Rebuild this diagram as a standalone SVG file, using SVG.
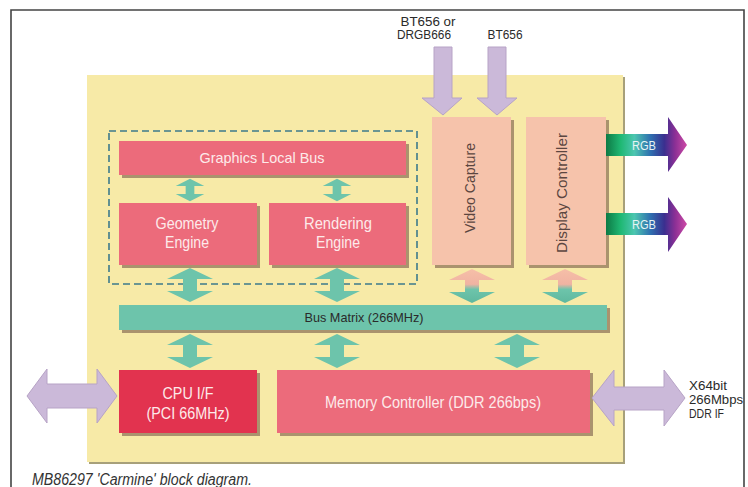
<svg xmlns="http://www.w3.org/2000/svg" width="748" height="487" viewBox="0 0 748 487">
<defs>
<style>
.pink{fill:#ec6b7b}
.red{fill:#e2334f}
.peach{fill:#f6c3ab}
.teal{fill:#6dc4ab}
.shadow{fill:#6b4a40;opacity:0.55}
.lav{fill:#cbb9d9;stroke:#b7a3c6;stroke-width:1}
.wt{font-family:"Liberation Sans",Arial,sans-serif;fill:#fdeaea;text-anchor:middle}
.dk{font-family:"Liberation Sans",Arial,sans-serif;fill:#2a2a2a}
.vt{font-family:"Liberation Sans",Arial,sans-serif;fill:#5b4640;text-anchor:middle;font-size:15px}
</style>
<path id="dv" d="M0,-17 L23,-6 L7,-6 L7,6 L23,6 L0,17 L-23,6 L-7,6 L-7,-6 L-23,-6 Z"/>
<linearGradient id="pt" x1="0" y1="0" x2="0" y2="1">
<stop offset="0" stop-color="#f6bfa8"/>
<stop offset="0.45" stop-color="#f0b3a2"/>
<stop offset="0.6" stop-color="#6dc4ab"/>
<stop offset="1" stop-color="#5fb89e"/>
</linearGradient>
<linearGradient id="rgb" x1="0" y1="0" x2="1" y2="0">
<stop offset="0" stop-color="#0d7a45"/>
<stop offset="0.18" stop-color="#1fb873"/>
<stop offset="0.35" stop-color="#4cc6b0"/>
<stop offset="0.55" stop-color="#2f6fb0"/>
<stop offset="0.72" stop-color="#3a2f8f"/>
<stop offset="0.85" stop-color="#8a2f95"/>
<stop offset="1" stop-color="#cf4aa6"/>
</linearGradient>
</defs>
<rect x="0" y="0" width="748" height="487" fill="#ffffff"/>
<path d="M11,487 L11,10 L744,10 L744,487" fill="none" stroke="#444" stroke-width="1.6"/>

<g id="chip">
<rect x="89" y="77" width="536" height="387" fill="#a7a07a"/>
<rect x="87" y="75" width="536" height="387" fill="#f7eaa7"/>
</g>

<g id="graphics-block">
<rect x="109" y="131" width="308" height="153" fill="none" stroke="#3d7a8c" stroke-width="1.6" stroke-dasharray="7,4"/>
</g>

<g id="graphics-local-bus">
<rect class="shadow" x="122" y="144" width="287" height="34"/>
<rect class="pink" x="119" y="141" width="287" height="34"/>
<text class="wt" x="262" y="163" font-size="15" textLength="125" lengthAdjust="spacingAndGlyphs">Graphics Local Bus</text>
</g>
<g id="geometry-engine">
<rect class="shadow" x="122" y="206" width="138" height="62"/>
<rect class="pink" x="119" y="203" width="138" height="62"/>
<text class="wt" x="187" y="229" font-size="16" textLength="63" lengthAdjust="spacingAndGlyphs">Geometry</text>
<text class="wt" x="187" y="248" font-size="16" textLength="44" lengthAdjust="spacingAndGlyphs">Engine</text>
</g>
<g id="rendering-engine">
<rect class="shadow" x="272" y="206" width="137" height="62"/>
<rect class="pink" x="269" y="203" width="137" height="62"/>
<text class="wt" x="338" y="229" font-size="16" textLength="68" lengthAdjust="spacingAndGlyphs">Rendering</text>
<text class="wt" x="338" y="248" font-size="16" textLength="44" lengthAdjust="spacingAndGlyphs">Engine</text>
</g>
<g id="video-capture">
<rect class="shadow" x="435" y="120" width="79" height="148"/>
<rect class="peach" x="432" y="117" width="79" height="148"/>
<text class="vt" transform="translate(475,188) rotate(-90)" textLength="90" lengthAdjust="spacingAndGlyphs">Video Capture</text>
</g>
<g id="display-controller">
<rect class="shadow" x="529" y="120" width="80" height="148"/>
<rect class="peach" x="526" y="117" width="80" height="148"/>
<text class="vt" transform="translate(567,193) rotate(-90)" textLength="120" lengthAdjust="spacingAndGlyphs">Display Controller</text>
</g>
<g id="bus-matrix">
<rect class="shadow" x="122" y="308" width="488" height="25"/>
<rect class="teal" x="119" y="305" width="488" height="25"/>
<text class="dk" x="364" y="322" font-size="13" text-anchor="middle" fill="#1f3a32" textLength="119" lengthAdjust="spacingAndGlyphs">Bus Matrix (266MHz)</text>
</g>
<g id="cpu-if">
<rect class="shadow" x="122" y="373" width="138" height="63"/>
<rect class="red" x="119" y="370" width="138" height="63"/>
<text class="wt" x="188" y="399" font-size="17" textLength="51" lengthAdjust="spacingAndGlyphs">CPU I/F</text>
<text class="wt" x="188" y="419" font-size="17" textLength="83" lengthAdjust="spacingAndGlyphs">(PCI 66MHz)</text>
</g>
<g id="memory-controller">
<rect class="shadow" x="280" y="373" width="313" height="63"/>
<rect class="pink" x="277" y="370" width="313" height="63"/>
<text class="wt" x="433" y="408" font-size="17" textLength="216" lengthAdjust="spacingAndGlyphs">Memory Controller (DDR 266bps)</text>
</g>

<g id="labels">
<text class="dk" x="428" y="26" font-size="12.5" text-anchor="middle" textLength="55" lengthAdjust="spacingAndGlyphs">BT656 or</text>
<text class="dk" x="424" y="39" font-size="12.5" text-anchor="middle" textLength="54" lengthAdjust="spacingAndGlyphs">DRGB666</text>
<text class="dk" x="505" y="39" font-size="12.5" text-anchor="middle" textLength="35" lengthAdjust="spacingAndGlyphs">BT656</text>
<text class="dk" x="689" y="390" font-size="13" textLength="38" lengthAdjust="spacingAndGlyphs">X64bit</text>
<text class="dk" x="689" y="404" font-size="13" textLength="54" lengthAdjust="spacingAndGlyphs">266Mbps</text>
<text class="dk" x="689" y="418" font-size="13" textLength="35" lengthAdjust="spacingAndGlyphs">DDR IF</text>
<text x="32" y="485" font-family="Liberation Sans,Arial,sans-serif" font-style="italic" font-size="16" fill="#333" textLength="220" lengthAdjust="spacingAndGlyphs">MB86297 'Carmine' block diagram.</text>
</g>

<g id="connectors">
<use href="#dv" class="teal" transform="translate(190,190) scale(0.62,0.66)"/>
<use href="#dv" class="teal" transform="translate(337,190) scale(0.62,0.66)"/>
<use href="#dv" class="teal" transform="translate(190,285)"/>
<use href="#dv" class="teal" transform="translate(337,285)"/>
<use href="#dv" fill="url(#pt)" transform="translate(472,286)"/>
<use href="#dv" fill="url(#pt)" transform="translate(565,286)"/>
<use href="#dv" class="teal" transform="translate(190,351)"/>
<use href="#dv" class="teal" transform="translate(337,351)"/>
<use href="#dv" class="teal" transform="translate(517,351)"/>
<path class="lav" d="M27,396 L47,369 L47,384 L97,384 L97,369 L117,396 L97,423 L97,408 L47,408 L47,423 Z"/>
<path class="lav" d="M592,398 L614,370 L614,387 L664,387 L664,370 L685,398 L664,426 L664,410 L614,410 L614,426 Z"/>
<path class="lav" d="M434,47 L452,47 L452,98 L462,98 L443,115 L422,98 L434,98 Z"/>
<path class="lav" d="M488,47 L506,47 L506,98 L517,98 L497,115 L477,98 L488,98 Z"/>
<path d="M606,134 L668,134 L668,117 L687,145 L668,172 L668,156 L606,156 Z" fill="url(#rgb)"/>
<text x="644" y="150" font-family="Liberation Sans,Arial,sans-serif" font-size="12" fill="#e8f4f4" text-anchor="middle" textLength="24" lengthAdjust="spacingAndGlyphs">RGB</text>
<path d="M606,213 L668,213 L668,197 L687,224 L668,252 L668,235 L606,235 Z" fill="url(#rgb)"/>
<text x="644" y="229" font-family="Liberation Sans,Arial,sans-serif" font-size="12" fill="#e8f4f4" text-anchor="middle" textLength="24" lengthAdjust="spacingAndGlyphs">RGB</text>
</g>
</svg>
